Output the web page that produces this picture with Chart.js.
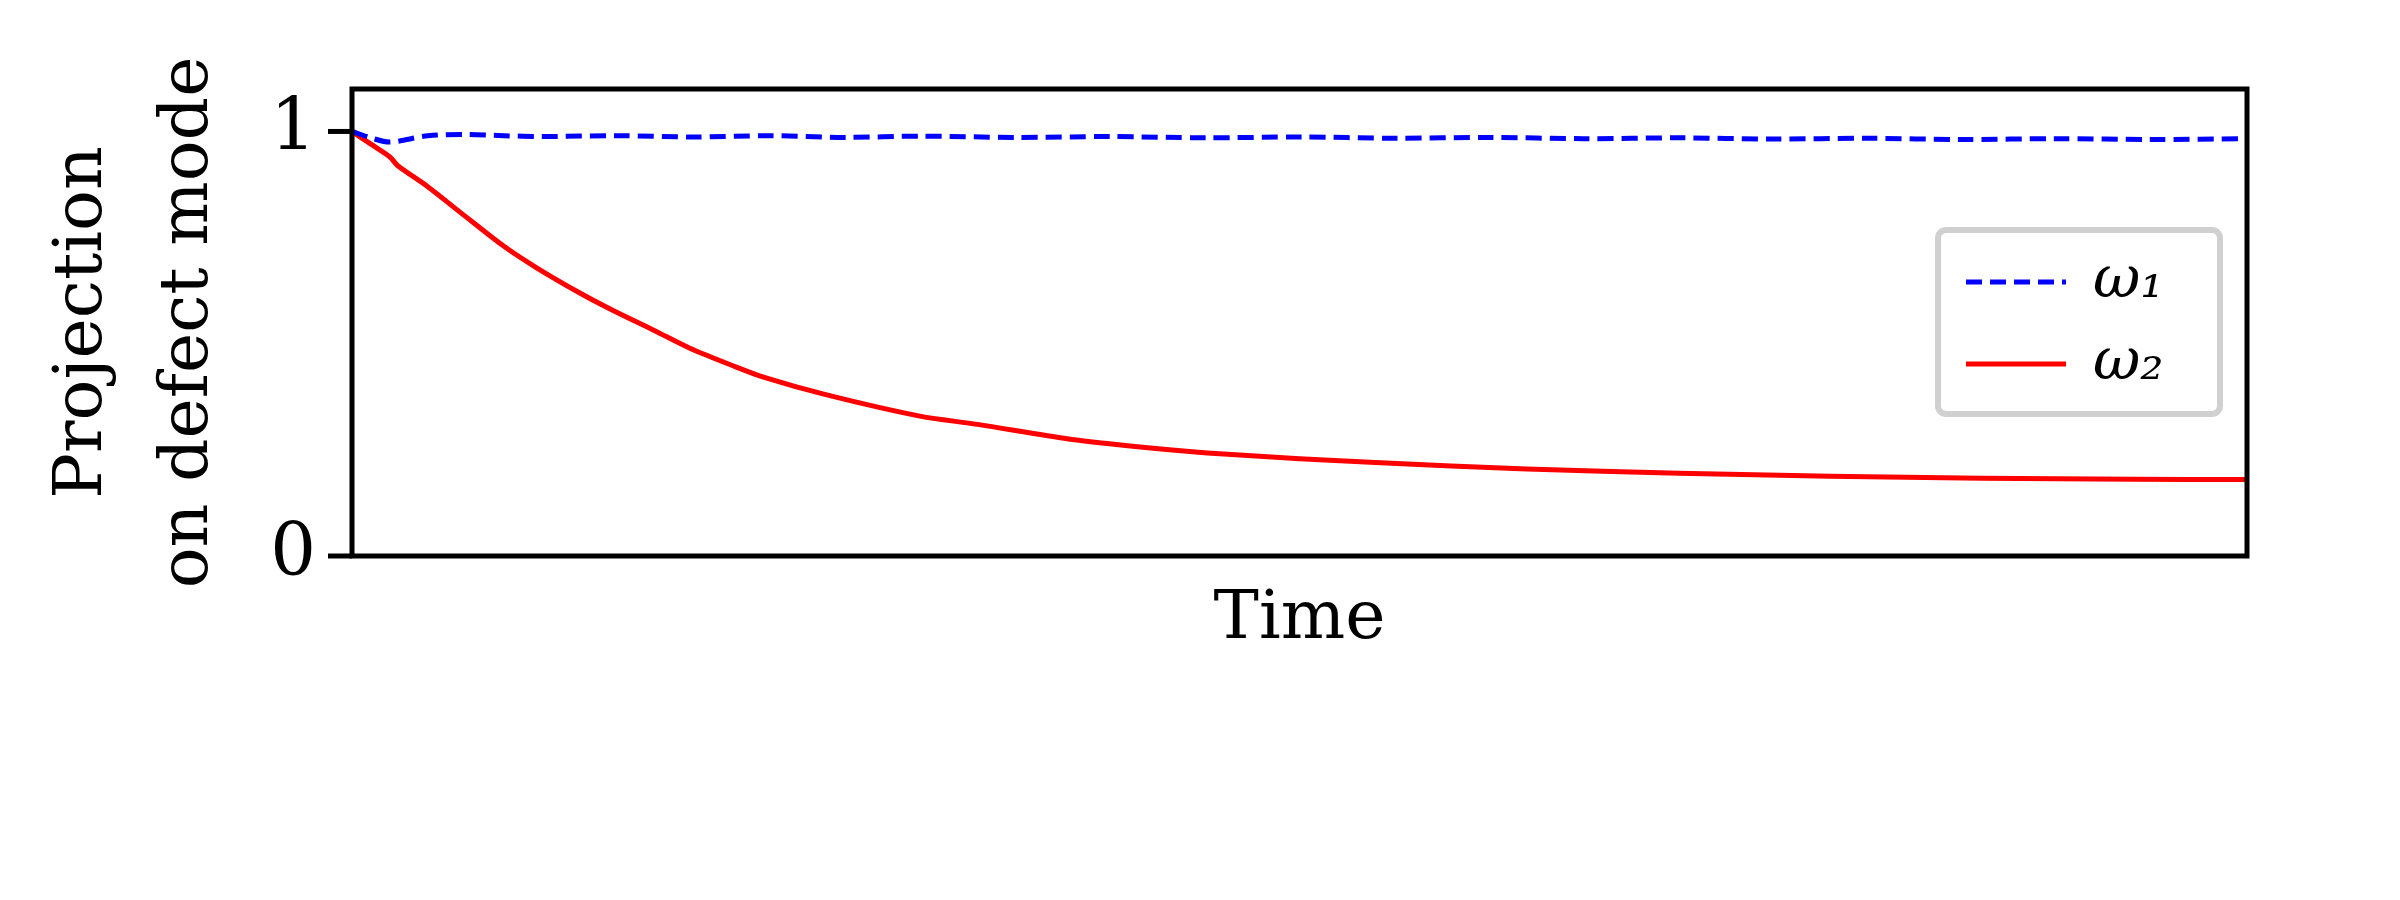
<!DOCTYPE html>
<html><head><meta charset="utf-8">
<script src="https://cdn.jsdelivr.net/npm/chart.js@4"></script>
<style>html,body{margin:0;background:#fff}#c{display:block}</style>
</head><body>
<div style="width:2400px;height:900px"><canvas id="c" width="2400" height="900"></canvas></div>
<script>
const timeRed = [0,1,2,2.4,4,5.7,8,9.7,12,13.7,16,17.8,20,21.8,25,29.9,33,37.9,42,46,54,62,70,78,86,94,100];
const omega2 = [1.0,0.97,0.94,0.92,0.87,0.81,0.73,0.68,0.62,0.58,0.53,0.49,0.45,0.42,0.38,0.33,0.31,0.275,0.255,0.24,0.22,0.205,0.195,0.188,0.183,0.181,0.18];
const timeBlue = [0,1,2,4,6,8,10,14,18,22,26,30,35,40,45,50,55,60,65,70,75,80,85,90,95,100];
const omega1 = [1.0,0.985,0.975,0.99,0.993,0.99,0.988,0.99,0.987,0.99,0.986,0.989,0.986,0.988,0.985,0.987,0.984,0.986,0.983,0.985,0.982,0.984,0.981,0.983,0.981,0.983];
const seriesLabels = ['ω₁','ω₂'];
const yTicks = [0,1];
const xTitle = 'Time';
const yTitle = ['Projection','on defect mode'];

const L=352,R=2247,T=89,B=556;
const serif = "'DejaVu Serif','Liberation Serif',serif";
const deco = {
  id:'deco',
  afterDraw(ch){
    const c=ch.ctx, a=ch.chartArea;
    c.save();
    c.strokeStyle='#000'; c.lineWidth=5;
    c.strokeRect(a.left,a.top,a.right-a.left,a.bottom-a.top);
    c.fillStyle='#000'; c.textAlign='center'; c.textBaseline='middle';
    c.font='68px '+serif;
    c.fillText(xTitle,(a.left+a.right)/2,620);
    c.translate(135,(a.top+a.bottom)/2); c.rotate(-Math.PI/2);
    c.fillText(yTitle[0],0,-52); c.fillText(yTitle[1],0,54);
    c.restore();
    c.save();
    const lx=1938,ly=230,lw=282,lh=184;
    c.fillStyle='rgba(255,255,255,0.85)'; c.strokeStyle='#d0d0d0'; c.lineWidth=6;
    c.beginPath(); c.roundRect(lx,ly,lw,lh,8); c.fill(); c.stroke();
    ch.data.datasets.forEach((d,i)=>{
      const y=ly+52+i*82;
      c.strokeStyle=d.borderColor; c.lineWidth=5; c.setLineDash(d.borderDash||[]);
      c.beginPath(); c.moveTo(lx+28,y); c.lineTo(lx+128,y); c.stroke();
      c.setLineDash([]); c.fillStyle='#000'; c.font='italic 58px '+serif;
      c.textAlign='left'; c.textBaseline='middle'; c.fillText(d.label,lx+155,y);
    });
    c.restore();
  }
};
new Chart(document.getElementById('c'),{
  type:'line',
  data:{datasets:[
    {label:seriesLabels[0],data:timeBlue.map((t,i)=>({x:t,y:omega1[i]})),borderColor:'#0000ff',borderWidth:5,borderDash:[16,8],pointRadius:0,tension:0.3},
    {label:seriesLabels[1],data:timeRed.map((t,i)=>({x:t,y:omega2[i]})),borderColor:'#ff0000',borderWidth:5,pointRadius:0,tension:0.3}
  ]},
  options:{
    responsive:false,animation:false,
    layout:{padding:{left:0,top:T,right:2400-R,bottom:0}},
    plugins:{legend:{display:false},tooltip:{enabled:false}},
    scales:{
      x:{type:'linear',min:0,max:100,grid:{display:false},border:{display:false},ticks:{display:false},
         afterFit(s){s.height=900-B;}},
      y:{min:0,max:1.1,grid:{display:false,drawTicks:false},border:{display:false},
         afterBuildTicks(s){s.ticks=yTicks.map(v=>({value:v}));},
         ticks:{color:'#000',font:{size:72,family:serif},padding:36},
         afterFit(s){s.width=L;}}
    }
  },
  plugins:[deco,{id:'tk',afterDraw(ch){const c=ch.ctx,y=ch.scales.y,a=ch.chartArea;c.save();c.strokeStyle='#000';c.lineWidth=5;yTicks.forEach(v=>{const p=y.getPixelForValue(v);c.beginPath();c.moveTo(a.left-24,p);c.lineTo(a.left,p);c.stroke();});c.restore();}}]
});
</script>
</body></html>
